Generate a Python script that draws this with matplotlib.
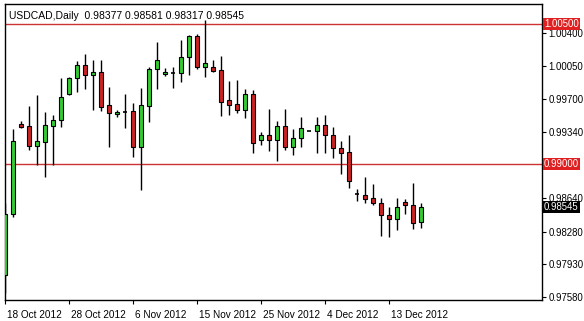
import matplotlib.pyplot as plt
from matplotlib.transforms import blended_transform_factory

# USDCAD daily bars, 18 Oct 2012 .. 18 Dec 2012
opens = [0.97815, 0.98467, 0.99428, 0.99407, 0.99193, 0.99236, 0.99407, 0.99471, 0.99749, 0.99919,
         1.00058, 0.99951, 0.99983, 0.99631, 0.99535, 0.99562, 0.99567, 0.99182, 0.99620, 1.00016,
         0.99962, 0.99978, 0.99973, 1.00144, 1.00368, 1.00037, 1.00037, 1.00005, 0.99684, 0.99642,
         0.99578, 0.99749, 0.99257, 0.99311, 0.99257, 0.99407, 0.99182, 0.99279, 0.99354, 0.99354,
         0.99417, 0.99311, 0.99172, 0.99129, 0.98680, 0.98670, 0.98638, 0.98584, 0.98456, 0.98413,
         0.98595, 0.98563, 0.98377]
highs = [0.98584, 0.99375, 0.99460, 0.99620, 0.99738, 0.99556, 0.99524, 0.99919, 0.99930, 1.00101,
         1.00176, 1.00112, 1.00112, 0.99823, 0.99578, 0.99749, 0.99652, 0.99813, 1.00037, 1.00304,
         1.00026, 1.00037, 1.00325, 1.00379, 1.00389, 1.00539, 1.00112, 1.00154, 0.99887, 0.99898,
         0.99802, 0.99791, 0.99343, 0.99588, 0.99460, 0.99588, 0.99375, 0.99503, 0.99354, 0.99503,
         0.99524, 0.99396, 0.99247, 0.99311, 0.98734, 0.98862, 0.98787, 0.98638, 0.98542, 0.98638,
         0.98627, 0.98798, 0.98581]
lows = [0.97623, 0.98435, 0.99386, 0.99150, 0.98990, 0.98862, 0.98990, 0.99396, 0.99738, 0.99770,
        0.99802, 0.99578, 0.99567, 0.99182, 0.99503, 0.99386, 0.99076, 0.98723, 0.99449, 0.99802,
        0.99941, 0.99813, 0.99877, 0.99951, 1.00016, 0.99930, 0.99983, 0.99514, 0.99524, 0.99546,
        0.99492, 0.99118, 0.99204, 0.99140, 0.99033, 0.99150, 0.99097, 0.99182, 0.99354, 0.99118,
        0.99118, 0.99065, 0.98894, 0.98745, 0.98606, 0.98584, 0.98563, 0.98232, 0.98222, 0.98296,
        0.98467, 0.98307, 0.98317]
closes = [0.98467, 0.99247, 0.99396, 0.99193, 0.99247, 0.99417, 0.99471, 0.99716, 0.99919, 1.00058,
          0.99951, 0.99983, 0.99610, 0.99546, 0.99556, 0.99562, 0.99182, 0.99631, 1.00016, 1.00112,
          0.99983, 0.99978, 1.00144, 1.00368, 1.00037, 1.00080, 0.99994, 0.99663, 0.99631, 0.99578,
          0.99749, 0.99225, 0.99311, 0.99257, 0.99407, 0.99182, 0.99279, 0.99386, 0.99354, 0.99417,
          0.99311, 0.99172, 0.99118, 0.98819, 0.98680, 0.98627, 0.98584, 0.98456, 0.98413, 0.98542,
          0.98563, 0.98371, 0.98545]

date_ticks = [0, 8, 16, 24, 32, 40, 48]
date_labels = ["18 Oct 2012", "28 Oct 2012", "6 Nov 2012", "15 Nov 2012",
               "25 Nov 2012", "4 Dec 2012", "13 Dec 2012"]
price_ticks = [1.00400, 1.00050, 0.99700, 0.99340, 0.98640, 0.98280, 0.97930, 0.97580]
levels = [1.00500, 0.99000]

UP = "#33cc33"
DOWN = "#cc2222"
LINE_RED = "#cc3333"

plt.rcParams['font.family'] = ['Liberation Sans', 'DejaVu Sans']

fig = plt.figure(figsize=(5.84, 3.21), dpi=100)
ax = fig.add_axes([5 / 584, 1 - 300 / 321, 537 / 584, 296 / 321])

for lv in levels:
    ax.axhline(lv, color=LINE_RED, lw=1, zorder=1)

w = 0.5
for i, (o, h, l, c) in enumerate(zip(opens, highs, lows, closes)):
    ax.vlines(i, l, h, color="black", lw=1, zorder=2)
    if o == c:
        ax.hlines(o, i - w / 2, i + w / 2, color="black", lw=1.2, zorder=3)
    else:
        col = UP if c > o else DOWN
        ax.bar(i, abs(c - o), bottom=min(o, c), width=w, color=col,
               edgecolor="black", linewidth=0.8, zorder=3)

ax.set_xlim(-0.05, -0.05 + 537 / 8)
ax.set_ylim(0.97549, 1.00710)

ax.yaxis.tick_right()
ax.set_yticks(price_ticks)
ax.set_yticklabels([f"{p:.5f}" for p in price_ticks])
ax.tick_params(axis="y", length=3, width=0.8, pad=1.5, labelsize=6.9, colors="black")

ax.set_xticks(date_ticks)
ax.set_xticklabels([])
ax.tick_params(axis="x", length=3, width=0.8)
trans_x = blended_transform_factory(ax.transData, ax.transAxes)
for t, lab in zip(date_ticks, date_labels):
    ax.text(t + 0.15, -0.035, lab, transform=trans_x, ha="left", va="top", fontsize=7.2)

for sp in ax.spines.values():
    sp.set_color("black")
    sp.set_linewidth(1)

trans_y = blended_transform_factory(ax.transAxes, ax.transData)
for lv in levels:
    ax.text(1.0035, lv, f"{lv:.5f}", transform=trans_y, ha="left", va="center",
            fontsize=6.9, color="white", zorder=5,
            bbox=dict(boxstyle="square,pad=0.12", facecolor="#e02020", edgecolor="none"))
ax.text(1.0035, closes[-1], f"{closes[-1]:.5f}", transform=trans_y, ha="left", va="center",
        fontsize=6.9, color="white", zorder=5,
        bbox=dict(boxstyle="square,pad=0.12", facecolor="black", edgecolor="none"))

ax.text(0.008, 0.975, f"USDCAD,Daily  {opens[-1]:.5f} {highs[-1]:.5f} {lows[-1]:.5f} {closes[-1]:.5f}",
        transform=ax.transAxes, ha="left", va="top", fontsize=7.5)

fig.savefig("out.png", dpi=100, facecolor="white")
